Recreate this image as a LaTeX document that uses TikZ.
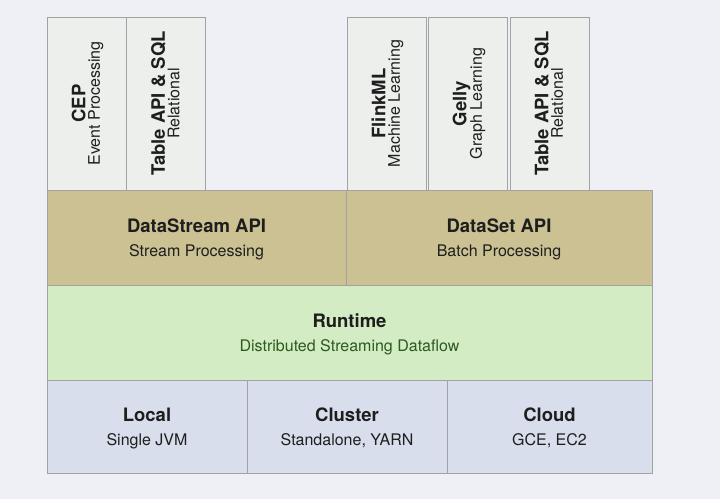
\documentclass[tikz,border=0pt]{standalone}
\usepackage{fontspec}
\setmainfont{TeX Gyre Heros}
\usepackage{tikz}
\usetikzlibrary{positioning}

\definecolor{slidebg}{HTML}{EFF0F5}
\definecolor{libfill}{HTML}{EDEFEC}
\definecolor{apifill}{HTML}{CBC193}
\definecolor{rtfill}{HTML}{D4ECC4}
\definecolor{depfill}{HTML}{D9DEEC}
\definecolor{cellline}{HTML}{A0A2A4}
\definecolor{txtdark}{HTML}{1E1E1E}
\definecolor{rtgreen}{HTML}{2C5A1F}

\newcommand{\ttl}[1]{{\fontsize{18.5}{21}\selectfont\bfseries #1}}

\begin{document}
\begin{tikzpicture}[x=1pt, y=-1pt,
   cell/.style={draw=cellline, line width=0.6pt, inner sep=0pt, align=center,
                text=txtdark, text depth=-2pt, font=\fontsize{16}{24}\selectfont},
   lib/.style={cell, fill=libfill, rotate=90, minimum width=173pt, minimum height=79pt,
               text depth=1.5pt, font=\fontsize{16}{16}\selectfont},
   api/.style={cell, fill=apifill, minimum height=95pt},
   rt/.style={cell, fill=rtfill, minimum height=95pt, minimum width=605pt},
   dep/.style={cell, fill=depfill, minimum height=93pt, minimum width=200pt}]
   \fill[slidebg] (0,0) rectangle (720,499);

   %libraries
   \node[lib] (cep) at (86.5,103.5) {\ttl{CEP}\\[-1.5pt]Event Processing};
   \node[lib] (tbl1) at (166,103.5) {\ttl{Table API \& SQL}\\[-1.5pt]Relational};
   \node[lib] (flinkml) at (386.5,103.5) {\ttl{FlinkML}\\[-1.5pt]Machine Learning};
   \node[lib] (gelly) at (468,103.5) {\ttl{Gelly}\\[-1.5pt]Graph Learning};
   \node[lib] (tbl2) at (549.5,103.5) {\ttl{Table API \& SQL}\\[-1.5pt]Relational};

   %apis
   \node[api, minimum width=299pt] (dstream) at (196.5,237.5) {\ttl{DataStream API}\\Stream Processing};
   \node[api, minimum width=306pt] (dset) at (499,237.5) {\ttl{DataSet API}\\Batch Processing};

   %runtime
   \node[rt] (runtime) at (349.5,332.5) {\ttl{Runtime}\\\textcolor{rtgreen}{Distributed Streaming Dataflow}};

   %deployment
   \node[dep] (local) at (147,426.5) {\ttl{Local}\\Single JVM};
   \node[dep] (cluster) at (347,426.5) {\ttl{Cluster}\\Standalone, YARN};
   \node[dep, minimum width=205pt] (cloud) at (549.5,426.5) {\ttl{Cloud}\\GCE, EC2};
\end{tikzpicture}
\end{document}
